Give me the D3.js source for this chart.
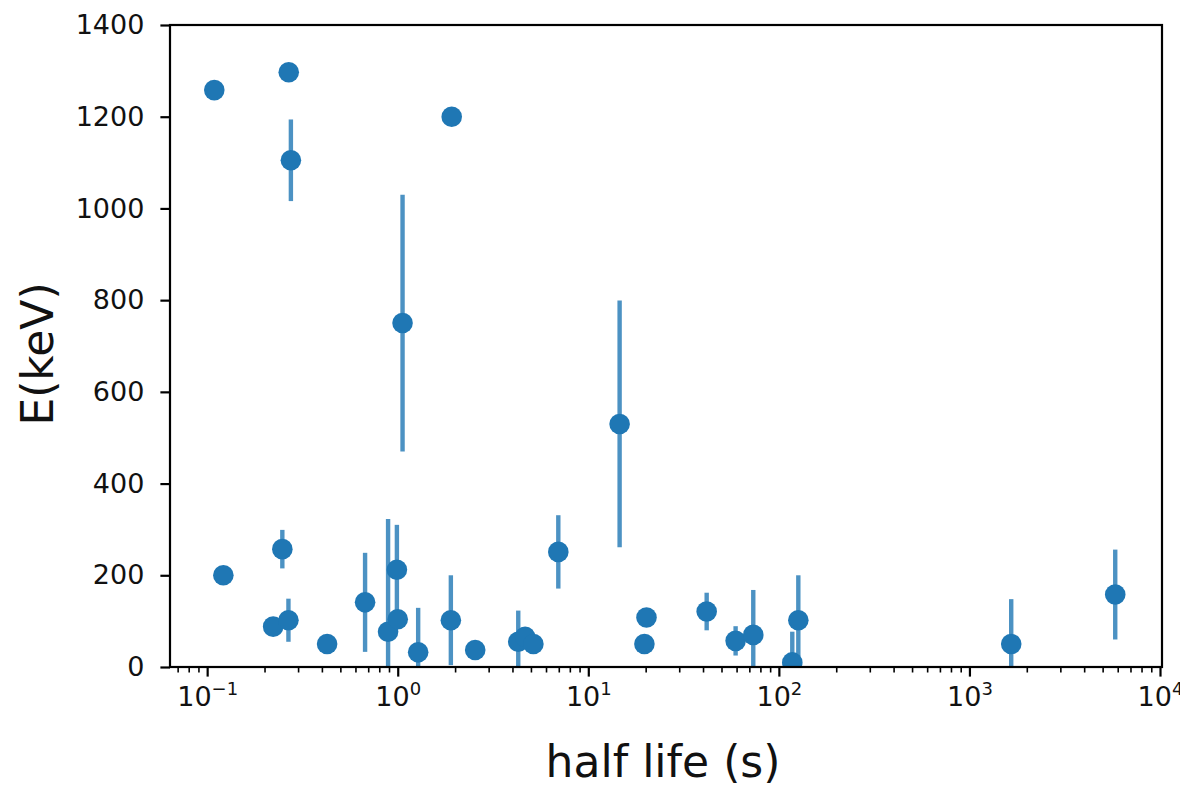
<!DOCTYPE html>
<html>
<head>
<meta charset="utf-8">
<script src="https://cdn.jsdelivr.net/npm/d3@7/dist/d3.min.js"></script>
<style>
  html, body { margin: 0; padding: 0; background: #fff; }
  svg { display: block; font-family: "DejaVu Sans", sans-serif; }
</style>
</head>
<body>
<svg id="chart" width="1180" height="786"></svg>
<script>
// Half life (s) of each state
const halfLife = [0.109, 0.268, 0.275, 1.92, 1.06, 14.6, 0.1216, 0.248, 0.222, 0.267,
                  0.426, 0.674, 0.89, 0.99, 1.0, 1.28, 1.90, 2.55, 4.29, 4.66,
                  5.15, 6.96, 20.2, 19.7, 41.8, 59.3, 73.4, 126.5, 117.6, 1657, 5822];
// Energy (keV)
const energy = [1258, 1297, 1105, 1200, 750, 530, 200, 257, 88, 102,
                50, 141, 77, 212, 104, 32, 102, 37, 55, 66,
                50, 251, 108, 50, 121, 57, 70, 102, 10, 50, 158];
// Symmetric energy uncertainty (keV); 0 means no error bar
const energyErr = [0, 0, 89, 0, 280, 269, 0, 42, 0, 47,
                   0, 108, 246, 98, 0, 97, 98, 0, 68, 0,
                   0, 80, 0, 0, 41, 32, 98, 98, 67, 98, 98];

const yTickValues = [0, 200, 400, 600, 800, 1000, 1200, 1400];
const xTickExponents = [-1, 0, 1, 2, 3, 4];

(function draw() {
  const svg = d3.select("#chart");
  const pLeft = 170, pRight = 1162, pTop = 25, pBottom = 667;
  const blue = "#1f77b4";

  const x = d3.scaleLog()
    .domain([Math.pow(10, -1.195), Math.pow(10, 4.0105)])
    .range([pLeft, pRight]);
  const y = d3.scaleLinear().domain([0, 1400]).range([pBottom, pTop]);

  svg.append("defs").append("clipPath").attr("id", "plotClip")
    .append("rect").attr("x", pLeft).attr("y", pTop)
    .attr("width", pRight - pLeft).attr("height", pBottom - pTop);

  const points = halfLife.map((h, i) => ({ h, e: energy[i], err: energyErr[i] }));

  const plot = svg.append("g").attr("clip-path", "url(#plotClip)");

  // error bars
  plot.selectAll("line.err")
    .data(points.filter(d => d.err > 0))
    .join("line")
    .attr("class", "err")
    .attr("x1", d => x(d.h)).attr("x2", d => x(d.h))
    .attr("y1", d => y(d.e - d.err)).attr("y2", d => y(d.e + d.err))
    .attr("stroke", blue).attr("stroke-opacity", 0.8)
    .attr("stroke-width", 4.4);

  // markers
  plot.selectAll("circle.pt")
    .data(points)
    .join("circle")
    .attr("class", "pt")
    .attr("cx", d => x(d.h)).attr("cy", d => y(d.e))
    .attr("r", 10.3)
    .attr("fill", blue);

  // y axis
  const yAxis = svg.append("g")
    .attr("transform", `translate(${pLeft},0)`)
    .call(d3.axisLeft(y).tickValues(yTickValues).tickSize(9.6).tickPadding(16)
      .tickFormat(d3.format("d")));
  yAxis.select(".domain").remove();
  yAxis.selectAll(".tick line").attr("stroke", "#000").attr("stroke-width", 2.2);
  yAxis.selectAll(".tick text").attr("font-size", 27).attr("fill", "#111")
    .attr("font-family", "DejaVu Sans");

  // x axis: minor ticks
  const minorTicks = [];
  for (let p = -2; p <= 4; p++) {
    for (let s = 2; s <= 9; s++) {
      const v = s * Math.pow(10, p);
      if (v >= x.domain()[0] && v <= x.domain()[1]) minorTicks.push(v);
    }
  }
  const xMinor = svg.append("g")
    .attr("transform", `translate(0,${pBottom})`)
    .call(d3.axisBottom(x).tickValues(minorTicks).tickSize(5.5).tickFormat(""));
  xMinor.select(".domain").remove();
  xMinor.selectAll(".tick line").attr("stroke", "#000").attr("stroke-width", 1.6);

  // x axis: major ticks with power-of-ten labels
  const xMajor = svg.append("g")
    .attr("transform", `translate(0,${pBottom})`)
    .call(d3.axisBottom(x).tickValues(xTickExponents.map(e => Math.pow(10, e)))
      .tickSize(9.6).tickFormat(""));
  xMajor.select(".domain").remove();
  xMajor.selectAll(".tick line").attr("stroke", "#000").attr("stroke-width", 2.2);
  xMajor.selectAll(".tick").each(function(d) {
    const e = Math.round(Math.log10(d));
    const t = d3.select(this).append("text")
      .attr("y", 39).attr("text-anchor", "middle")
      .attr("fill", "#111").attr("font-size", 27)
      .attr("font-family", "DejaVu Sans");
    t.append("tspan").text("10");
    t.append("tspan").attr("dy", -11).attr("font-size", 18)
      .text(e < 0 ? "\u2212" + Math.abs(e) : String(e));
  });

  // frame
  svg.append("rect")
    .attr("x", pLeft).attr("y", pTop)
    .attr("width", pRight - pLeft).attr("height", pBottom - pTop)
    .attr("fill", "none").attr("stroke", "#000").attr("stroke-width", 2.2);

  // axis titles
  svg.append("text")
    .attr("x", (pLeft + pRight) / 2 - 3).attr("y", 777)
    .attr("text-anchor", "middle").attr("font-size", 44).attr("fill", "#111")
    .text("half life (s)");
  svg.append("text")
    .attr("transform", `translate(53,${(pTop + pBottom) / 2 + 8}) rotate(-90)`)
    .attr("text-anchor", "middle").attr("font-size", 44).attr("fill", "#111")
    .text("E(keV)");
})();
</script>
</body>
</html>
